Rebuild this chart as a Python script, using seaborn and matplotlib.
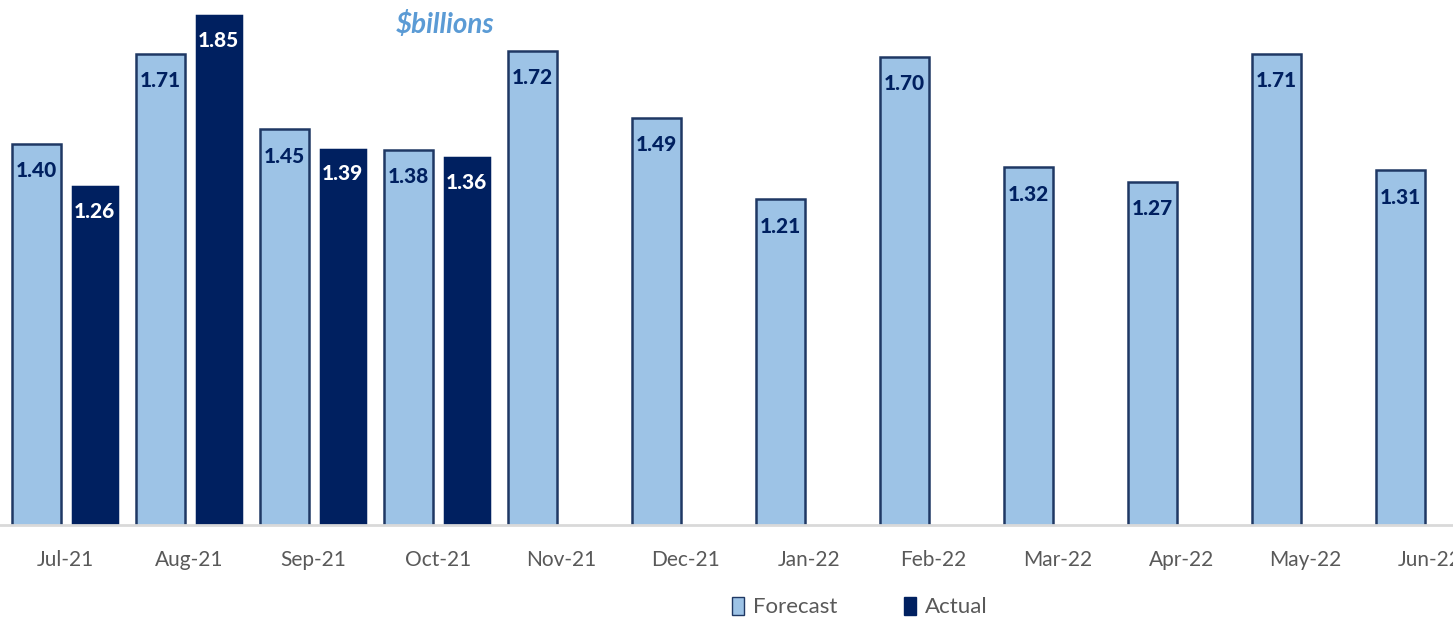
import numpy as np
import pandas as pd
import matplotlib
matplotlib.use("Agg")
import matplotlib.pyplot as plt
from matplotlib.patches import Patch
import seaborn as sns

months = ["Jul-21", "Aug-21", "Sep-21", "Oct-21", "Nov-21", "Dec-21",
          "Jan-22", "Feb-22", "Mar-22", "Apr-22", "May-22", "Jun-22"]
forecast = [1.40, 1.71, 1.45, 1.38, 1.72, 1.49, 1.21, 1.70, 1.32, 1.27, 1.71, 1.31]
actual = [1.26, 1.85, 1.39, 1.36, np.nan, np.nan, np.nan, np.nan, np.nan, np.nan, np.nan, np.nan]

light = "#9DC3E6"
navy = "#002060"
edge_dark = "#1F3864"

df = pd.DataFrame({
    "month": months * 2,
    "value": forecast + actual,
    "series": ["Forecast"] * len(months) + ["Actual"] * len(months),
})
df = df.dropna()

sns.set_style("white")
plt.rcParams["font.family"] = ["Lato", "DejaVu Sans"]

fig = plt.figure(figsize=(14.53, 6.17), dpi=100)
ax = fig.add_axes([0, 92 / 617, 1, 525 / 617])

sns.barplot(data=df, x="month", y="value", hue="series", order=months,
            hue_order=["Forecast", "Actual"], palette=[light, navy],
            width=0.94, gap=0.15, legend=False, ax=ax, saturation=1)

edges = [edge_dark, "white"]
txt_cols = [navy, "white"]
for cont, ec, tc in zip(ax.containers, edges, txt_cols):
    for bar in cont:
        h = bar.get_height()
        if np.isnan(h):
            continue
        bar.set_edgecolor(ec)
        bar.set_linewidth(1.8)
        ax.annotate(f"{h:.2f}", (bar.get_x() + bar.get_width() / 2, h),
                    xytext=(0, -19.5), textcoords="offset points",
                    ha="center", va="center", fontsize=15, fontweight="black",
                    color=tc)

ax.set_xlim(-0.53, 11.19)
ax.set_ylim(0.088, 1.895)
ax.set_yticks([])
ax.set_xlabel("")
ax.set_ylabel("")
for s in ["top", "right", "left"]:
    ax.spines[s].set_visible(False)
ax.spines["bottom"].set_color("#D9D9D9")
ax.spines["bottom"].set_linewidth(2)
ax.tick_params(axis="x", length=0, pad=18, labelsize=15, labelcolor="#595959")

fig.text(445 / 1453, 1 - 25 / 617, "$billions", ha="center", va="center",
         fontsize=20, fontweight="bold", fontstyle="italic", color="#5B9BD5")

handles = [Patch(facecolor=light, edgecolor=edge_dark, label="Forecast"),
           Patch(facecolor=navy, edgecolor=navy, label="Actual")]
fig.legend(handles=handles, loc="center", bbox_to_anchor=(860 / 1453, 10 / 617),
           ncol=2, frameon=False, fontsize=16, labelcolor="#595959",
           handlelength=0.55, handleheight=0.9, handletextpad=0.4,
           columnspacing=3.0)

fig.savefig("out.png", dpi=100)
